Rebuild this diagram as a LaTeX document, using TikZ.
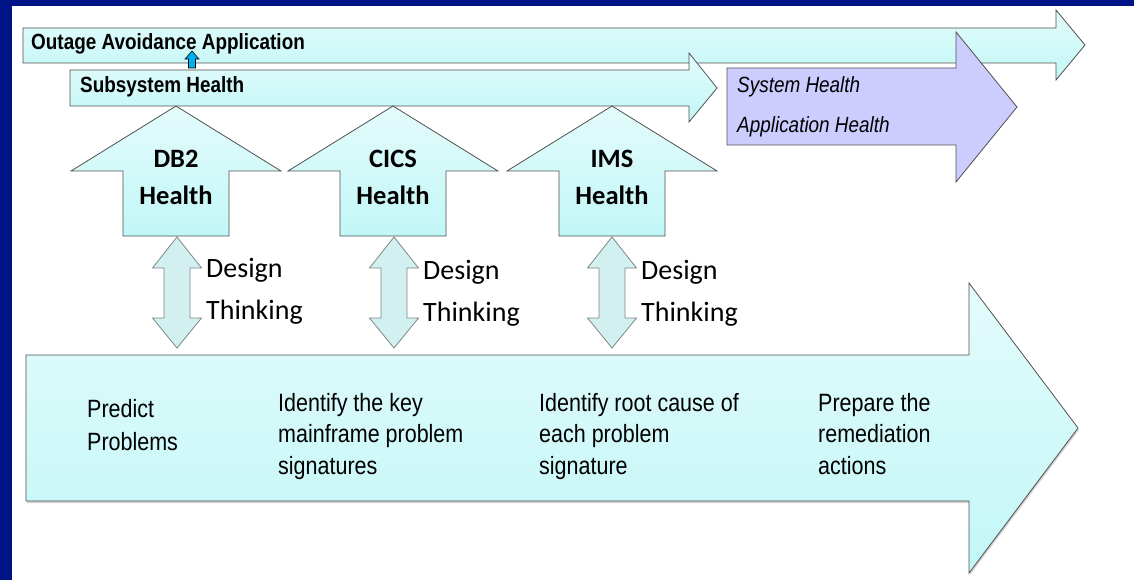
\documentclass[tikz,border=0pt]{standalone}
\usepackage{fontspec}
\newfontfamily\arialfont{Liberation Sans}[FakeStretch=0.86]
\newfontfamily\calibrifont{Carlito}
\usetikzlibrary{shadows}

\definecolor{navy}{RGB}{0,20,136}
\definecolor{cyanlight}{RGB}{228,251,251}
\definecolor{cyandeep}{RGB}{194,247,247}
\definecolor{lavender}{RGB}{204,204,255}
\definecolor{edge}{RGB}{80,80,80}
\definecolor{dtfill}{RGB}{210,240,240}
\definecolor{dtedge}{RGB}{125,135,135}
\definecolor{skyblue}{RGB}{0,176,240}

\begin{document}
\begin{tikzpicture}[x=1pt,y=-1pt,
  band/.style={top color=cyanlight, bottom color=cyandeep, draw=edge, line width=0.8pt, line join=miter},
  sysband/.style={fill=lavender, draw=edge, line width=0.8pt, line join=miter},
  uparrow/.style={top color=cyanlight, bottom color=cyandeep, draw=edge, line width=0.8pt, line join=miter},
  twoway/.style={fill=dtfill, draw=dtedge, line width=0.8pt, line join=miter},
  bandlabel/.style={inner sep=0pt, anchor=west, font=\arialfont\bfseries\fontsize{22}{24}\selectfont},
  syslabel/.style={inner sep=0pt, anchor=north west, align=left, font=\arialfont\itshape\fontsize{22}{40}\selectfont},
  healthlabel/.style={inner sep=0pt, align=center, font=\calibrifont\bfseries\fontsize{26.5}{37}\selectfont},
  dtlabel/.style={inner sep=0pt, anchor=north west, align=left, font=\calibrifont\fontsize{28}{42}\selectfont},
  steplabel/.style={inner sep=0pt, anchor=north west, align=left, font=\arialfont\fontsize{25}{31.5}\selectfont},
]
\useasboundingbox (0,0) rectangle (1134,580);
\fill[white] (0,0) rectangle (1134,580);
\fill[navy] (0,0) rectangle (12,580);
\fill[navy] (0,0) rectangle (1134,6);

% --- top bands ---
\path[band] (23,28) -- (1056,28) -- (1056,10) -- (1085,45) -- (1056,80) -- (1056,63) -- (23,63) -- cycle;
\node[bandlabel] (outage) at (31,44) {Outage Avoidance Application};

\path[band] (70,70) -- (689,70) -- (689,53) -- (717,88) -- (689,122) -- (689,106) -- (70,106) -- cycle;
\node[bandlabel] (subsys) at (80,87) {Subsystem Health};

% small link between the two bands
\path[fill=skyblue, draw=black, line width=0.6pt]
  (192,51) -- (199,59) -- (195.5,59) -- (195.5,68) -- (188.5,68) -- (188.5,59) -- (185,59) -- cycle;

\path[sysband] (727,68) -- (956,68) -- (956,32) -- (1017,107) -- (956,182) -- (956,145) -- (727,145) -- cycle;
\node[syslabel] (syshealth) at (737,76) {System Health\\Application Health};

% --- subsystem arrows ---
\foreach \cx/\nm/\lbl in {176/db2/DB2, 393/cics/CICS, 612/ims/IMS}{
  \path[uparrow] (\cx,106) -- ({\cx+105},171) -- ({\cx+53},171) -- ({\cx+53},236)
    -- ({\cx-53},236) -- ({\cx-53},171) -- ({\cx-105},171) -- cycle;
  \node[healthlabel] (\nm) at (\cx,177) {\lbl\\Health};
}

% --- design thinking links ---
\foreach \cx/\dy/\nm in {177/0/dtone, 394/2/dttwo, 612/2/dtthree}{
  \path[twoway] (\cx,237) -- ({\cx+24.5},268) -- ({\cx+13},268) -- ({\cx+13},318)
    -- ({\cx+24.5},318) -- (\cx,348) -- ({\cx-24.5},318) -- ({\cx-13},318)
    -- ({\cx-13},268) -- ({\cx-24.5},268) -- cycle;
  \node[dtlabel] (\nm) at ({\cx+29},{258+\dy}) {Design\\Thinking};
}

% --- process band ---
\path[band, drop shadow={shadow xshift=1pt, shadow yshift=-2pt, opacity=0.35}]
  (26,355) -- (969,355) -- (969,283) -- (1078,428) -- (969,573) -- (969,501) -- (26,501) -- cycle;
\node[steplabel, font=\arialfont\fontsize{25}{33}\selectfont] (predict) at (87,399) {Predict\\Problems};
\node[steplabel] (identify) at (278,393) {Identify the key\\mainframe problem\\signatures};
\node[steplabel] (rootcause) at (539,393) {Identify root cause of\\each problem\\signature};
\node[steplabel] (prepare) at (818,393) {Prepare the\\remediation\\actions};
\end{tikzpicture}
\end{document}
